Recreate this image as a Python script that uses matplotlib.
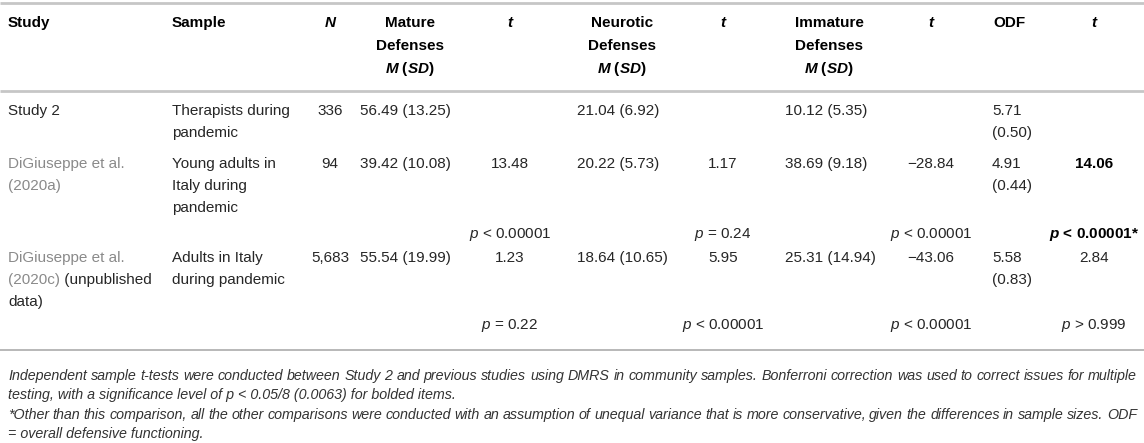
#!/usr/bin/env python3
"""
Table: DMRS defense scores of Study 2 vs. previous community samples.

Drawn as text on a blank axes sized in pixels (1144 x 443).
Produces: out.png
"""

import matplotlib
matplotlib.use("Agg")
import matplotlib.pyplot as plt

# ---- table content -------------------------------------------------------
studies = ["Study 2", "DiGiuseppe et al.\n(2020a)", "DiGiuseppe et al.\n(2020c)"]
study_cited = [False, True, True]
study_notes = ["", "", "(unpublished\ndata)"]
samples = ["Therapists during\npandemic",
           "Young adults in\nItaly during\npandemic",
           "Adults in Italy\nduring pandemic"]
n_values = ["336", "94", "5,683"]

mature = ["56.49 (13.25)", "39.42 (10.08)", "55.54 (19.99)"]
mature_t = ["", "13.48", "1.23"]
mature_p = ["", "< 0.00001", "= 0.22"]

neurotic = ["21.04 (6.92)", "20.22 (5.73)", "18.64 (10.65)"]
neurotic_t = ["", "1.17", "5.95"]
neurotic_p = ["", "= 0.24", "< 0.00001"]

immature = ["10.12 (5.35)", "38.69 (9.18)", "25.31 (14.94)"]
immature_t = ["", "\u221228.84", "\u221243.06"]
immature_p = ["", "< 0.00001", "< 0.00001"]

odf = ["5.71\n(0.50)", "4.91\n(0.44)", "5.58\n(0.83)"]
odf_t = ["", "14.06", "2.84"]
odf_p = ["", "< 0.00001*", "> 0.999"]
odf_bold = [False, True, False]

footnotes = [
    "Independent sample t-tests were conducted between Study 2 and previous studies using DMRS in "
    "community samples. Bonferroni correction was used to correct issues for multiple",
    "testing, with a significance level of p < 0.05/8 (0.0063) for bolded items.",
    "*Other than this comparison, all the other comparisons were conducted with an assumption of "
    "unequal variance that is more conservative, given the differences in sample sizes. ODF",
    "= overall defensive functioning.",
]
footnote_justified = [True, False, True, False]

# ---- layout (pixels) -----------------------------------------------------
W, H = 1144, 443
FS = 11.0          # body font size in pt
FS_NOTE = 10.25
LINE_H = 22
TEXT = "#262626"
LINK = "#8a8a8a"
RULE = "#c6c6c6"

X_STUDY, X_SAMPLE, X_N = 8, 172, 330
X_MAT, X_MAT_T = 360, 510
X_NEU, X_NEU_T = 577, 723
X_IMM, X_IMM_T = 785, 931
X_ODF, X_ODF_T = 992, 1094
X_NOTE_END = 1137
HEAD_CENTERS = {"mat": 410, "neu": 622, "imm": 829, "odf": 1009}

HEAD_Y = [22.5, 45.5, 68.5]
ROW_Y = [111, 164, 258]
P_Y = [None, 234, 326]
NOTE_Y = [376, 395.5, 415, 434]

plt.rcParams["font.family"] = ["Liberation Sans", "DejaVu Sans"]
plt.rcParams["mathtext.fontset"] = "custom"
plt.rcParams["mathtext.rm"] = "Liberation Sans"
plt.rcParams["mathtext.it"] = "Liberation Sans:italic"
plt.rcParams["mathtext.bf"] = "Liberation Sans:bold"
plt.rcParams["mathtext.bfit"] = "Liberation Sans:bold:italic"

fig = plt.figure(figsize=(W / 100, H / 100), dpi=100)
ax = fig.add_axes([0, 0, 1, 1])
ax.set_xlim(0, W)
ax.set_ylim(H, 0)
ax.axis("off")
renderer = fig.canvas.get_renderer()


def put(x, y, s, ha="left", **kw):
    kw.setdefault("color", TEXT)
    kw.setdefault("fontsize", FS)
    return ax.text(x, y, s, ha=ha, va="center", **kw)


def put_lines(x, y0, s, ha="left", **kw):
    for i, line in enumerate(s.split("\n")):
        put(x, y0 + i * LINE_H, line, ha=ha, **kw)


def put_justified(x0, x1, y, s, **kw):
    # spread the words so the line runs from x0 to x1
    words = s.split(" ")
    arts = [put(x0, y, w, **kw) for w in words]
    widths = [a.get_window_extent(renderer).width for a in arts]
    gap = (x1 - x0 - sum(widths)) / (len(words) - 1)
    x = x0
    for a, w in zip(arts, widths):
        a.set_x(x)
        x += w + gap


# rules
ax.hlines([3, 91], 0, W, colors=RULE, linewidth=2.0)
ax.hlines(350, 0, W, colors="#b8b8b8", linewidth=1.4)

# header
hb = dict(fontweight="bold", color="black")
put(X_STUDY, HEAD_Y[0], "Study", **hb)
put(X_SAMPLE, HEAD_Y[0], "Sample", **hb)
put(X_N, HEAD_Y[0], "N", ha="center", fontstyle="italic", **hb)
msd = r"$\mathbfit{M}$ ($\mathbfit{SD}$)"
for key, name in [("mat", "Mature"), ("neu", "Neurotic"), ("imm", "Immature")]:
    cx = HEAD_CENTERS[key]
    put(cx, HEAD_Y[0], name, ha="center", **hb)
    put(cx, HEAD_Y[1], "Defenses", ha="center", **hb)
    put(cx, HEAD_Y[2], msd, ha="center", **hb)
put(HEAD_CENTERS["odf"], HEAD_Y[0], "ODF", ha="center", **hb)
for xt in (X_MAT_T, X_NEU_T, X_IMM_T, X_ODF_T):
    put(xt, HEAD_Y[0], "t", ha="center", fontstyle="italic", **hb)

# body rows
for i in range(len(studies)):
    y = ROW_Y[i]
    lines = studies[i].split("\n")
    last = None
    for j, line in enumerate(lines):
        last = put(X_STUDY, y + j * LINE_H, line,
                   color=LINK if study_cited[i] else TEXT)
    if study_notes[i]:
        note = study_notes[i].split("\n")
        ax.annotate(" " + note[0], xy=(1, 0), xycoords=last, ha="left",
                    va="bottom", fontsize=FS, color=TEXT)
        for k, line in enumerate(note[1:], start=1):
            put(X_STUDY, y + (len(lines) - 1 + k) * LINE_H, line)

    put_lines(X_SAMPLE, y, samples[i])
    put(X_N, y, n_values[i], ha="center")
    put(X_MAT, y, mature[i])
    put(X_NEU, y, neurotic[i])
    put(X_IMM, y, immature[i])
    put_lines(X_ODF, y, odf[i])

    put(X_MAT_T, y, mature_t[i], ha="center")
    put(X_NEU_T, y, neurotic_t[i], ha="center")
    put(X_IMM_T, y, immature_t[i], ha="center")
    put(X_ODF_T, y, odf_t[i], ha="center",
        fontweight="bold" if odf_bold[i] else "normal",
        color="black" if odf_bold[i] else TEXT)

    if P_Y[i] is not None:
        py = P_Y[i]
        for xt, pv in [(X_MAT_T, mature_p[i]), (X_NEU_T, neurotic_p[i]),
                       (X_IMM_T, immature_p[i])]:
            put(xt, py, r"$p$ " + pv, ha="center")
        if odf_bold[i]:
            put(X_ODF_T, py, r"$\mathbfit{p}$ " + odf_p[i], ha="center",
                fontweight="bold", color="black")
        else:
            put(X_ODF_T, py, r"$p$ " + odf_p[i], ha="center")

# footnotes
note_style = dict(fontsize=FS_NOTE, fontstyle="italic", color="#333333")
for y, s, just in zip(NOTE_Y, footnotes, footnote_justified):
    if just:
        put_justified(X_STUDY, X_NOTE_END, y, s, **note_style)
    else:
        put(X_STUDY, y, s, **note_style)

fig.savefig("out.png", dpi=100, facecolor="white")
